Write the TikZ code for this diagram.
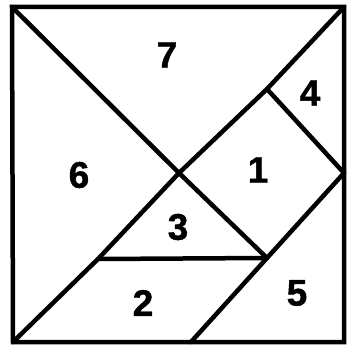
\documentclass[tikz,border=0pt]{standalone}
\usepackage{fontspec}
\setmainfont{Liberation Sans}
\newfontfamily\heavyfont{Liberation Sans Bold}[FakeBold=1.2]
\begin{document}
\begin{tikzpicture}[x=1pt,y=-1pt,
  edge/.style={line width=4.5pt, line cap=round, line join=miter},
  lbl/.style={font=\fontsize{37}{39}\heavyfont, inner sep=0pt}]
\useasboundingbox (0,0) rectangle (348,345);
\coordinate (TL) at (12,7);
\coordinate (TR) at (344,7);
\coordinate (BR) at (344,342);
\coordinate (BL) at (13,342);
\coordinate (C) at (179,173);
\coordinate (P) at (267,258);
\coordinate (Q) at (98,259);
\coordinate (R) at (267,89);
\coordinate (S) at (344,173);
\coordinate (B5) at (191,342);
\draw[edge] (TL) -- (TR) -- (BR) -- (BL) -- cycle;
\draw[edge] (TL) -- (C) -- (P);
\draw[edge] (BL) -- (Q) -- (C) -- (R) -- (TR);
\draw[edge] (R) -- (S);
\draw[edge] (S) -- (P) -- (B5);
\draw[edge] (Q) -- (P);
\node[lbl] (n7) at (167,55) {7};
\node[lbl] (n6) at (79,175) {6};
\node[lbl] (n1) at (258,170) {1};
\node[lbl] (n4) at (310,93) {4};
\node[lbl] (n3) at (178,227) {3};
\node[lbl] (n2) at (143,303) {2};
\node[lbl] (n5) at (297,293) {5};
\end{tikzpicture}
\end{document}
